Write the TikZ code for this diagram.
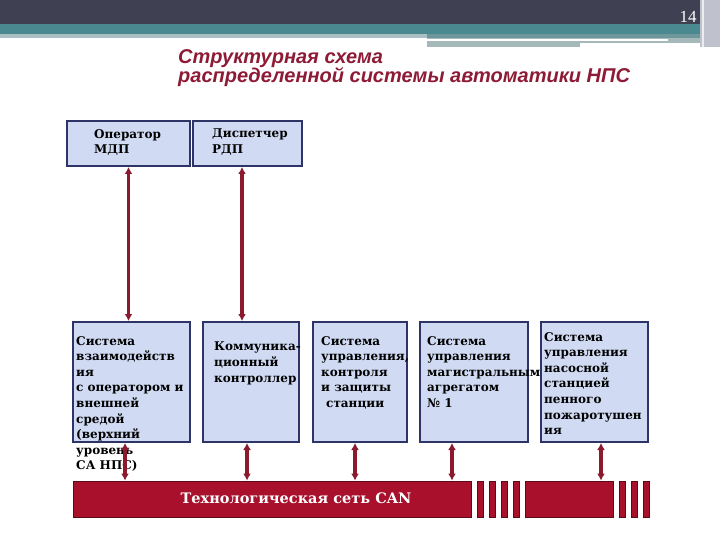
\documentclass[tikz,border=0pt]{standalone}
\usepackage{fontspec}
\setmainfont{DejaVu Serif}
\newfontfamily\headfont{Liberation Sans}
\newfontfamily\numfont{Liberation Serif}
\usetikzlibrary{arrows.meta,calc}

\definecolor{hdrdark}{HTML}{3F4153}
\definecolor{hdrteal}{HTML}{4B8990}
\definecolor{hdrlight}{HTML}{A9BFC2}
\definecolor{hdrmid}{HTML}{6E979B}
\definecolor{hdrgrey}{HTML}{A5B8BA}
\definecolor{hdrside}{HTML}{BFC2CC}
\definecolor{titlered}{HTML}{8E1B35}
\definecolor{arrowred}{HTML}{8B1A2E}
\definecolor{busred}{HTML}{A8102C}
\definecolor{busedge}{HTML}{5C0A16}
\definecolor{boxfill}{HTML}{D0DBF3}
\definecolor{boxedge}{HTML}{2C3566}

\def\dy{15.6}

\begin{document}
\begin{tikzpicture}[x=1pt,y=-1pt]
  \tikzset{block/.style={minimum height=120pt,inner sep=0pt,fill=boxfill,draw=boxedge,line width=2pt},
    caption/.style={anchor=north west,inner sep=0pt,align=left,font=\fontsize{12}{\dy}\selectfont\bfseries},
    canbar/.style={minimum height=36pt,inner sep=0pt,fill=busred,draw=busedge,line width=.8pt},
    link/.style={<->,>={Latex[length=7pt,width=8pt]},draw=arrowred,line width=3.2pt}}
  \useasboundingbox (0,0) rectangle (720,540);

  % header
  \fill[hdrdark] (0,0) rectangle (720,24);
  \fill[hdrteal] (0,24) rectangle (720,34);
  \fill[hdrlight] (0,34) rectangle (427,38);
  \fill[hdrmid] (427,34) rectangle (700,38);
  \fill[hdrgrey] (427,38) rectangle (700,43);
  \fill[white] (427,39.5) rectangle (668,41.5);
  \fill[hdrgrey] (427,43) rectangle (580,47);
  \fill[hdrside] (700,0) rectangle (720,47);
  \draw[white!70!hdrside,line width=1.5pt] (703,0) -- (703,47);
  \node[text=white,font=\numfont\fontsize{17}{17}\selectfont] (page) at (688,17) {14};

  \node[anchor=north west,inner sep=0pt,align=left,text=titlered,
    font=\headfont\fontsize{20}{19.5}\selectfont\bfseries\itshape] (title) at (178,49)
    {Структурная схема\\распределенной системы автоматики НПС};

  % operators
  \node[block,minimum width=123pt,minimum height=45pt] (op) at (128.5,143.5) {};
  \node[block,minimum width=109pt,minimum height=45pt] (disp) at (247.5,143.5) {};
  \node[caption] (optext) at ([shift={(28,9)}]op.north west) {Оператор\\МДП};
  \node[caption] (disptext) at ([shift={(20,9)}]disp.north west) {Диспетчер\\РДП};

  % subsystems
  \node[block,minimum width=117pt] (sys) at (131.5,382) {};
  \node[block,minimum width=96pt] (comm) at (251,382) {};
  \node[block,minimum width=94pt] (ctrl) at (360,382) {};
  \node[block,minimum width=108pt] (unit) at (474,382) {};
  \node[block,minimum width=107pt] (fire) at (594.5,382) {};
  \node[caption] (systext) at ([shift={(4,15)}]sys.north west)
    {Система\\взаимодейств\\ия\\с оператором и\\внешней\\средой\\(верхний\\уровень\\СА НПС)};
  \node[caption] (commtext) at ([shift={(12,21)}]comm.north west) {Коммуника-\\ционный\\контроллер};
  \node[caption] (ctrltext) at ([shift={(9,15)}]ctrl.north west)
    {Система\\управления,\\контроля\\и защиты\\\hspace*{5pt}станции};
  \node[caption] (unittext) at ([shift={(8,15)}]unit.north west)
    {Система\\управления\\магистральным\\агрегатом\\№ 1};
  \node[caption] (firetext) at ([shift={(4,11)}]fire.north west)
    {Система\\управления\\насосной\\станцией\\пенного\\пожаротушен\\ия};

  % CAN bus
  \node[canbar,minimum width=398pt] (can) at (272,499) {};
  \node[text=white,font=\fontsize{14.5}{15}\selectfont\bfseries] (cantext) at (296,498) {Технологическая сеть CAN};
  \node[canbar,minimum width=6pt] (seg1) at (480,499) {};
  \node[canbar,minimum width=6pt] (seg2) at (492,499) {};
  \node[canbar,minimum width=6pt] (seg3) at (504,499) {};
  \node[canbar,minimum width=6pt] (seg4) at (516,499) {};
  \node[canbar,minimum width=88pt] (pump) at (569,499) {};
  \node[canbar,minimum width=6pt] (seg5) at (622,499) {};
  \node[canbar,minimum width=6pt] (seg6) at (634,499) {};
  \node[canbar,minimum width=6pt] (seg7) at (646.5,499) {};

  \draw[link] (op.south) -- (op.south |- sys.north);
  \draw[link] ($(disp.south)+(-5.5,0)$) -- ($(disp.south |- comm.north)+(-5.5,0)$);
  \draw[link] ($(sys.south)+(-6.5,0)$) -- ($(sys.south |- can.north)+(-6.5,0)$);
  \draw[link] ($(comm.south)+(-4,0)$) -- ($(comm.south |- can.north)+(-4,0)$);
  \draw[link] ($(ctrl.south)+(-5,0)$) -- ($(ctrl.south |- can.north)+(-5,0)$);
  \draw[link] ($(unit.south)+(-22,0)$) -- ($(unit.south |- can.north)+(-22,0)$);
  \draw[link] ($(fire.south)+(6.5,0)$) -- ($(fire.south |- pump.north)+(6.5,0)$);
\end{tikzpicture}
\end{document}
